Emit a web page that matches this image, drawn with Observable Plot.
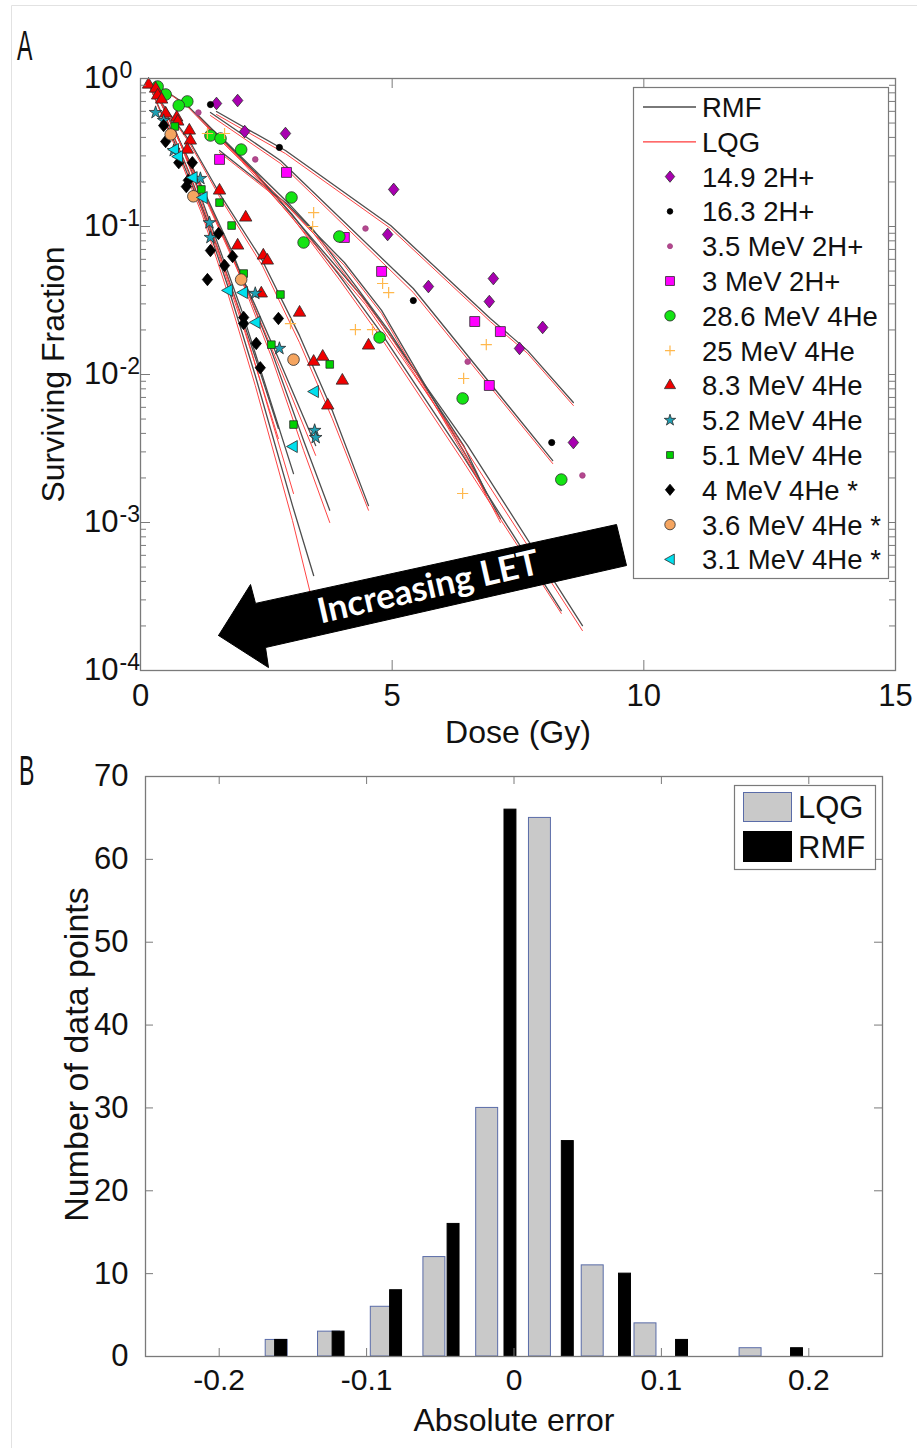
<!DOCTYPE html>
<html>
<head>
<meta charset="utf-8">
<script src="https://cdn.jsdelivr.net/npm/d3@7"></script>
<script src="https://cdn.jsdelivr.net/npm/@observablehq/plot@0.6"></script>
<style>
  html,body{margin:0;padding:0;background:#fff;}
  #fig{position:relative;width:917px;height:1448px;overflow:hidden;background:#fff;}
</style>
</head>
<body>
<div id="fig"></div>
<script>
// ---------------- Panel A data: [dose (Gy), surviving fraction] ----------------
const seriesNames = ["14.9 2H+","16.3 2H+","3.5 MeV 2H+","3 MeV 2H+","28.6 MeV 4He","25 MeV 4He",
  "8.3 MeV 4He","5.2 MeV 4He","5.1 MeV 4He","4 MeV 4He *","3.6 MeV 4He *","3.1 MeV 4He *"];

const pts_149 = [[1.51,0.678],[1.93,0.71],[2.07,0.438],[2.88,0.425],[5.03,0.178],[4.91,0.0883],[5.72,0.0393],[7.01,0.0445],[6.93,0.0311],[7.99,0.0208],[7.53,0.015],[8.60,0.00347]];
const pts_163 = [[1.39,0.667],[2.76,0.342],[5.42,0.0316],[8.17,0.00347]];
const pts_35  = [[1.15,0.589],[2.28,0.284],[4.47,0.0969],[6.50,0.0122],[8.78,0.00208]];
const pts_3   = [[1.57,0.284],[2.90,0.232],[4.05,0.0843],[4.79,0.0497],[6.64,0.0228],[7.15,0.0195],[6.93,0.00843]];
const pts_286 = [[0.34,0.883],[0.50,0.78],[0.93,0.70],[0.76,0.657],[1.39,0.412],[1.59,0.393],[2.00,0.331],[3.00,0.157],[3.24,0.078],[3.95,0.0856],[4.75,0.0178],[6.40,0.00689],[8.36,0.00195]];
const pts_25  = [[1.33,0.425],[1.67,0.425],[3.44,0.124],[3.42,0.100],[4.81,0.0412],[4.93,0.0358],[4.27,0.0201],[4.61,0.0201],[2.98,0.0221],[6.87,0.0159],[6.42,0.0094],[6.40,0.00157]];
const pts_83  = [[0.16,0.91],[0.30,0.855],[0.34,0.768],[0.42,0.721],[0.50,0.58],[0.72,0.545],[0.74,0.512],[0.97,0.445],[0.99,0.381],[0.93,0.331],[1.57,0.175],[2.09,0.115],[1.93,0.0744],[2.44,0.0637],[2.52,0.0589],[2.40,0.0353],[3.16,0.0262],[3.44,0.0122],[3.62,0.0132],[4.01,0.0091],[3.72,0.00618],[4.53,0.0157]];
const pts_52  = [[0.30,0.589],[0.46,0.52],[0.66,0.326],[1.19,0.211],[1.37,0.106],[1.39,0.0843],[2.28,0.0353],[2.76,0.015],[3.46,0.00419],[3.48,0.00375]];
const pts_51  = [[0.68,0.474],[1.21,0.178],[1.57,0.145],[1.81,0.1015],[2.05,0.0481],[2.78,0.0347],[2.60,0.0159],[3.76,0.0117],[3.04,0.00459]];
const pts_4   = [[0.46,0.481],[0.50,0.375],[0.76,0.27],[1.03,0.27],[0.95,0.205],[0.91,0.186],[1.55,0.0897],[1.39,0.0688],[1.83,0.0627],[1.67,0.0545],[1.33,0.0438],[2.05,0.0243],[2.05,0.0221],[2.30,0.0162],[2.38,0.0111],[2.74,0.0239]];
const pts_36  = [[0.60,0.419],[1.05,0.16],[2.00,0.0438],[3.04,0.0126]];
const pts_31  = [[0.66,0.331],[0.74,0.297],[1.03,0.214],[1.23,0.157],[1.73,0.037],[2.03,0.0358],[2.28,0.0225],[3.44,0.00767],[3.02,0.00326]];

// model curves (RMF, LQG), read at the doses of each data set
const rmf_149 = [[1.51,0.598],[2.88,0.326],[4.97,0.1016],[6.95,0.0239],[7.69,0.0145],[8.60,0.00647]];
const lqg_149 = [[1.51,0.571],[2.88,0.311],[4.97,0.0969],[6.95,0.0228],[7.69,0.0139],[8.60,0.00617]];
const rmf_163 = [[1.39,0.589],[2.78,0.279],[5.42,0.0381],[8.19,0.00262]];
const lqg_163 = [[1.39,0.562],[2.78,0.267],[5.42,0.0358],[8.19,0.0025]];
const rmf_35  = [[1.15,0.562],[2.28,0.232],[4.47,0.0316],[6.50,0.00331],[8.78,0.000201]];
const lqg_35  = [[1.15,0.553],[2.28,0.225],[4.47,0.0297],[6.50,0.00297],[8.78,0.000186]];
const rmf_3   = [[1.57,0.326],[2.90,0.143],[4.05,0.0571],[4.79,0.0271],[6.64,0.00225],[7.15,0.00106]];
const lqg_3   = [[1.57,0.316],[2.90,0.139],[4.05,0.0545],[4.79,0.0258],[6.64,0.00214],[7.15,0.00100]];
const rmf_286 = [[0.34,0.897],[0.93,0.657],[1.39,0.459],[2.01,0.288],[3.00,0.122],[3.95,0.0467],[4.75,0.0198],[6.40,0.00284],[8.36,0.000254]];
const lqg_286 = [[0.34,0.897],[0.93,0.647],[1.39,0.445],[2.01,0.275],[3.00,0.117],[3.95,0.0438],[4.75,0.0183],[6.40,0.00262],[8.36,0.000243]];
const rmf_25  = [[1.33,0.481],[1.67,0.381],[2.98,0.139],[3.44,0.094],[4.27,0.0399],[4.93,0.0198],[6.42,0.00331],[6.87,0.00159]];
const lqg_25  = [[1.33,0.474],[1.67,0.369],[2.98,0.132],[3.44,0.0897],[4.27,0.0381],[4.93,0.0189],[6.42,0.00307],[6.87,0.00152]];
const rmf_83  = [[0.16,0.897],[0.50,0.627],[0.97,0.381],[1.57,0.167],[2.42,0.0589],[3.16,0.0183],[3.81,0.00571],[4.53,0.0013]];
const lqg_83  = [[0.16,0.897],[0.50,0.617],[0.97,0.369],[1.57,0.159],[2.42,0.0545],[3.16,0.0164],[3.81,0.00504],[4.53,0.00121]];
const rmf_52  = [[0.30,0.804],[0.66,0.459],[1.37,0.139],[2.28,0.0292],[2.76,0.0124],[3.48,0.00331]];
const lqg_52  = [[0.30,0.804],[0.66,0.452],[1.37,0.134],[2.28,0.0275],[2.76,0.0113],[3.48,0.00284]];
const rmf_51  = [[0.68,0.445],[1.21,0.189],[1.81,0.0688],[2.60,0.0145],[3.24,0.00358],[3.76,0.00121]];
const lqg_51  = [[0.68,0.438],[1.21,0.183],[1.81,0.0647],[2.60,0.0132],[3.24,0.00307],[3.76,0.00100]];
const rmf_4   = [[0.46,0.589],[0.95,0.239],[1.55,0.0688],[2.05,0.0225],[2.38,0.0103],[2.74,0.00432]];
const lqg_4   = [[0.46,0.589],[0.95,0.232],[1.55,0.0647],[2.05,0.0205],[2.38,0.00911],[2.74,0.00369]];
const rmf_36  = [[0.60,0.537],[1.05,0.221],[2.01,0.0271],[3.04,0.00214]];
const lqg_36  = [[0.60,0.537],[1.05,0.214],[2.01,0.0239],[3.04,0.00157]];
const rmf_31  = [[0.20,0.856],[0.66,0.381],[1.23,0.128],[1.73,0.0399],[2.28,0.00984],[3.02,0.0013],[3.44,0.000438]];
const lqg_31  = [[0.20,0.856],[0.66,0.364],[1.23,0.119],[1.73,0.0358],[2.28,0.00843],[3.02,0.00103],[3.44,0.00027]];

const ptsList = [pts_149,pts_163,pts_35,pts_3,pts_286,pts_25,pts_83,pts_52,pts_51,pts_4,pts_36,pts_31];
const rmfList = [rmf_149,rmf_163,rmf_35,rmf_3,rmf_286,rmf_25,rmf_83,rmf_52,rmf_51,rmf_4,rmf_36,rmf_31];
const lqgList = [lqg_149,lqg_163,lqg_35,lqg_3,lqg_286,lqg_25,lqg_83,lqg_52,lqg_51,lqg_4,lqg_36,lqg_31];

// axis ticks / labels
const doseTicks = [0, 5, 10, 15];
const sfMajor = [1e-4, 1e-3, 1e-2, 1e-1, 1];
const sfMinor = [];
for (const dec of [1e-4, 1e-3, 1e-2, 1e-1]) for (let m = 2; m <= 9; m++) sfMinor.push(m * dec);

// arrow annotation (dose, SF) and its text
const arrowDose = [1.55, 2.186, 2.285, 9.457, 9.656, 2.484, 2.543, 1.55];
const arrowSF   = [1.724e-4, 3.81e-4, 2.84e-4, 9.69e-4, 5.12e-4, 1.43e-4, 1.047e-4, 1.724e-4];
const arrowText = [{dose: 5.72, sf: 3.64e-4, label: "Increasing LET"}];

// ---------------- Panel B data ----------------
const lqgCenters = [-0.161, -0.1255, -0.0897, -0.054, -0.0182, 0.0176, 0.0534, 0.0892, 0.125, 0.1605];
const lqgCounts  = [2, 3, 6, 12, 30, 65, 11, 4, 0, 1];
const rmfCenters = [-0.158, -0.119, -0.080, -0.041, -0.0024, 0.0365, 0.0753, 0.114, 0.153, 0.192];
const rmfCounts  = [2, 3, 8, 16, 66, 26, 10, 2, 0, 1];
const errTicks = [-0.2, -0.1, 0, 0.1, 0.2];
const countTicks = [0, 10, 20, 30, 40, 50, 60, 70];

// ---------------- styles ----------------
const FONT = "'Liberation Sans', Arial, Helvetica, sans-serif";
const diamondM = {draw(ctx, size){ const r = Math.sqrt(size/Math.PI);
  ctx.moveTo(0,-1.15*r); ctx.lineTo(0.95*r,0); ctx.lineTo(0,1.15*r); ctx.lineTo(-0.95*r,0); ctx.closePath(); }};
const leftTri = {draw(ctx, size){ const r = Math.sqrt(size/Math.PI);
  ctx.moveTo(-r,0); ctx.lineTo(0.8*r,-r); ctx.lineTo(0.8*r,r); ctx.closePath(); }};
const EDGE = "#2a2a2a";
const styleOf = {
  "14.9 2H+":      {symbol: diamondM,  fill: "#a800b0", stroke: EDGE, r: 5.5},
  "16.3 2H+":      {symbol: "circle",  fill: "#000000", stroke: "#000000", r: 3.1},
  "3.5 MeV 2H+":   {symbol: "circle",  fill: "#b5478f", stroke: "#a04080", r: 2.8},
  "3 MeV 2H+":     {symbol: "square",  fill: "#ff00ff", stroke: EDGE, r: 5.6},
  "28.6 MeV 4He":  {symbol: "circle",  fill: "#14e414", stroke: EDGE, r: 5.8},
  "25 MeV 4He":    {symbol: "plus",    fill: "none",    stroke: "#ffb84d", r: 3.7},
  "8.3 MeV 4He":   {symbol: "triangle",fill: "#f00000", stroke: EDGE, r: 4.6},
  "5.2 MeV 4He":   {symbol: "star",    fill: "#1fa0b4", stroke: EDGE, r: 4.0},
  "5.1 MeV 4He":   {symbol: "square",  fill: "#00d000", stroke: EDGE, r: 4.3},
  "4 MeV 4He *":   {symbol: diamondM,  fill: "#000000", stroke: "#000000", r: 5.4},
  "3.6 MeV 4He *": {symbol: "circle",  fill: "#f5a560", stroke: EDGE, r: 5.8},
  "3.1 MeV 4He *": {symbol: leftTri,   fill: "#00e0ee", stroke: EDGE, r: 6}
};
const RMF_COLOR = "#4d4d4d", LQG_COLOR = "#ff3a3a", AXIS = "#7a7a7a";

// ---------------- tables ----------------
const curveRows = [];
seriesNames.forEach((s, i) => {
  rmfList[i].forEach(([d, f]) => curveRows.push({series: s, model: "RMF", dose: d, sf: f}));
  lqgList[i].forEach(([d, f]) => curveRows.push({series: s, model: "LQG", dose: d, sf: f}));
});
const arrowRows = arrowDose.map((d, i) => ({dose: d, sf: arrowSF[i]}));

const fig = document.getElementById("fig");

// ---------------- Panel A ----------------
const WA = 917, HA = 750, mlA = 140, mrA = 22, mtA = 78, mbA = 80;
const pwA = WA - mlA - mrA, phA = HA - mtA - mbA;
const dotMarks = seriesNames.map((s, i) => {
  const st = styleOf[s];
  return Plot.dot(ptsList[i], {x: d => d[0], y: d => d[1], symbol: st.symbol, r: st.r,
    fill: st.fill, stroke: st.stroke, strokeWidth: st.symbol === "plus" ? 1.2 : 0.8});
});
const plotA = Plot.plot({
  width: WA, height: HA, marginLeft: mlA, marginRight: mrA, marginTop: mtA, marginBottom: mbA,
  x: {domain: [0, 15], axis: null},
  y: {type: "log", domain: [1e-4, 1], axis: null},
  style: {fontFamily: FONT, background: "transparent", color: "#111", overflow: "visible"},
  marks: [
    Plot.line(curveRows.filter(d => d.model === "RMF"), {x: "dose", y: "sf", z: "series", stroke: RMF_COLOR, strokeWidth: 1.3}),
    Plot.line(curveRows.filter(d => d.model === "LQG"), {x: "dose", y: "sf", z: "series", stroke: LQG_COLOR, strokeWidth: 1, strokeOpacity: 0.95}),
    ...dotMarks,
    Plot.line(arrowRows, {x: "dose", y: "sf", fill: "black", stroke: "black", strokeWidth: 1}),
    Plot.text(arrowText, {x: "dose", y: "sf", text: "label", rotate: -12.8, fill: "white",
      fontSize: 35, fontWeight: "bold", fontFamily: "Lato, 'Open Sans', sans-serif"}),
    // ticks (inward, all sides)
    Plot.tickY(sfMajor, {y: d => d, insetRight: pwA - 10, stroke: AXIS}),
    Plot.tickY(sfMajor, {y: d => d, insetLeft: pwA - 10, stroke: AXIS}),
    Plot.tickY(sfMinor, {y: d => d, insetRight: pwA - 6, stroke: AXIS}),
    Plot.tickY(sfMinor, {y: d => d, insetLeft: pwA - 6, stroke: AXIS}),
    Plot.tickX(doseTicks, {x: d => d, insetTop: phA - 10, stroke: AXIS}),
    Plot.tickX(doseTicks, {x: d => d, insetBottom: phA - 10, stroke: AXIS}),
    Plot.frame({stroke: AXIS, strokeWidth: 1.3}),
    // tick labels
    Plot.text(sfMajor, {y: d => d, frameAnchor: "left", dx: -22, textAnchor: "end", lineAnchor: "middle", text: () => "10", fontSize: 31}),
    Plot.text(sfMajor, {y: d => d, frameAnchor: "left", dx: -21, dy: -1, textAnchor: "start", lineAnchor: "bottom",
      text: d => String(Math.round(Math.log10(d))), fontSize: 23}),
    Plot.text(doseTicks, {x: d => d, frameAnchor: "bottom", dy: 13, lineAnchor: "top", textAnchor: "middle", text: d => String(d), fontSize: 31}),
    // axis titles
    Plot.text(["Dose (Gy)"], {frameAnchor: "bottom", dy: 62, lineAnchor: "middle", textAnchor: "middle", text: d => d, fontSize: 32}),
    Plot.text(["Surviving Fraction"], {frameAnchor: "left", dx: -87, rotate: -90, textAnchor: "middle", lineAnchor: "middle", text: d => d, fontSize: 32})
  ]
});
plotA.style.position = "absolute"; plotA.style.left = "0px"; plotA.style.top = "0px";
fig.appendChild(plotA);

// ---------------- Panel B ----------------
const WB = 917, HB = 698, mlB = 145, mrB = 35, mtB = 26, mbB = 92;
const pwB = WB - mlB - mrB, phB = HB - mtB - mbB;
const GW = 0.0149, BW = 0.0081; // bar widths (data units)
const lqgRows = lqgCenters.map((c, i) => ({c, n: lqgCounts[i]})).filter(d => d.n > 0);
const rmfRows = rmfCenters.map((c, i) => ({c, n: rmfCounts[i]})).filter(d => d.n > 0);
const plotB = Plot.plot({
  width: WB, height: HB, marginLeft: mlB, marginRight: mrB, marginTop: mtB, marginBottom: mbB,
  x: {domain: [-0.25, 0.25], axis: null},
  y: {domain: [0, 70], axis: null},
  style: {fontFamily: FONT, background: "transparent", color: "#111", overflow: "visible"},
  marks: [
    Plot.rect(lqgRows, {x1: d => d.c - GW/2, x2: d => d.c + GW/2, y1: 0, y2: "n", fill: "#c9c9c9", stroke: "#5a6ca8", strokeWidth: 1}),
    Plot.rect(rmfRows, {x1: d => d.c - BW/2, x2: d => d.c + BW/2, y1: 0, y2: "n", fill: "#000", stroke: "#000", strokeWidth: 1}),
    Plot.tickY(countTicks, {y: d => d, insetRight: pwB - 8, stroke: AXIS}),
    Plot.tickY(countTicks, {y: d => d, insetLeft: pwB - 8, stroke: AXIS}),
    Plot.tickX(errTicks, {x: d => d, insetTop: phB - 8, stroke: AXIS}),
    Plot.tickX(errTicks, {x: d => d, insetBottom: phB - 8, stroke: AXIS}),
    Plot.frame({stroke: AXIS, strokeWidth: 1.3}),
    Plot.text(countTicks, {y: d => d, frameAnchor: "left", dx: -17, textAnchor: "end", lineAnchor: "middle", text: d => String(d), fontSize: 31}),
    Plot.text(errTicks, {x: d => d, frameAnchor: "bottom", dy: 12, lineAnchor: "top", textAnchor: "middle", text: d => String(d), fontSize: 30}),
    Plot.text(["Absolute error"], {frameAnchor: "bottom", dy: 64, lineAnchor: "middle", textAnchor: "middle", text: d => d, fontSize: 32}),
    Plot.text(["Number of data points"], {frameAnchor: "left", dx: -68, dy: -12, rotate: -90, textAnchor: "middle", lineAnchor: "middle", text: d => d, fontSize: 34})
  ]
});
plotB.style.position = "absolute"; plotB.style.left = "0px"; plotB.style.top = "750px";
fig.appendChild(plotB);

// ---------------- overlay: border, panel letters, legends ----------------
const ov = d3.select(fig).append("svg").attr("width", 917).attr("height", 1448)
  .style("position", "absolute").style("left", "0px").style("top", "0px").style("font-family", FONT);
ov.append("path").attr("d", "M11.5,1448 V5.5 H917").attr("fill", "none").attr("stroke", "#e2e2e2");
ov.append("text").attr("transform", "translate(17,60) scale(0.55,1)").attr("font-size", 42).attr("fill", "#111").text("A");
ov.append("text").attr("transform", "translate(19,785) scale(0.55,1)").attr("font-size", 42).attr("fill", "#111").text("B");

const symType = s => typeof s === "object" ? s : ({circle: d3.symbolCircle, square: d3.symbolSquare,
  triangle: d3.symbolTriangle, star: d3.symbolStar, plus: d3.symbolPlus})[s];

// legend A
const gA = ov.append("g");
gA.append("rect").attr("x", 633.5).attr("y", 87.5).attr("width", 255).attr("height", 491)
  .attr("fill", "#fff").attr("stroke", AXIS).attr("stroke-width", 1.2);
const legendRows = [{label: "RMF", line: RMF_COLOR, w: 1.5}, {label: "LQG", line: LQG_COLOR, w: 1.2},
  ...seriesNames.map(s => ({label: s, st: styleOf[s]}))];
legendRows.forEach((row, i) => {
  const y = 107 + i * 34.8;
  if (row.line) {
    gA.append("line").attr("x1", 643).attr("x2", 696).attr("y1", y).attr("y2", y)
      .attr("stroke", row.line).attr("stroke-width", row.w);
  } else {
    const st = row.st, k = 0.9;
    gA.append("path").attr("transform", `translate(670,${y})`)
      .attr("d", d3.symbol(symType(st.symbol), Math.PI * st.r * st.r * k * k)())
      .attr("fill", st.fill).attr("stroke", st.stroke).attr("stroke-width", st.symbol === "plus" ? 1.2 : 0.8);
  }
  gA.append("text").attr("x", 702).attr("y", y).attr("dy", "0.36em").attr("font-size", 27.5).attr("fill", "#111").text(row.label);
});

// legend B
const gB = ov.append("g");
gB.append("rect").attr("x", 734.5).attr("y", 785.5).attr("width", 141).attr("height", 84)
  .attr("fill", "#fff").attr("stroke", AXIS).attr("stroke-width", 1.2);
gB.append("rect").attr("x", 743.5).attr("y", 792.5).attr("width", 48).attr("height", 29)
  .attr("fill", "#c9c9c9").attr("stroke", "#5a6ca8");
gB.append("rect").attr("x", 743.5).attr("y", 831.5).attr("width", 48).attr("height", 30)
  .attr("fill", "#000").attr("stroke", "#000");
gB.append("text").attr("x", 798).attr("y", 807).attr("dy", "0.36em").attr("font-size", 31).attr("fill", "#111").text("LQG");
gB.append("text").attr("x", 798).attr("y", 847).attr("dy", "0.36em").attr("font-size", 31).attr("fill", "#111").text("RMF");
</script>
</body>
</html>
